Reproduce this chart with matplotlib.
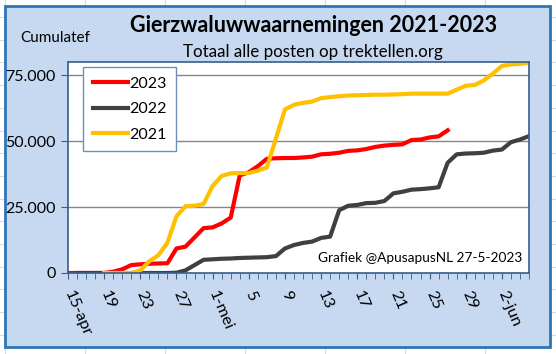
import numpy as np
import matplotlib
matplotlib.use('Agg')
import matplotlib.pyplot as plt
from matplotlib.patches import Rectangle
from matplotlib.lines import Line2D
from matplotlib.ticker import FuncFormatter, MultipleLocator

plt.rcParams['font.family'] = ['Lato', 'DejaVu Sans']

# dag 0 = 15-apr, dag 51 = 5-jun
tick_labels = ['15-apr', '19', '23', '27', '1-mei', '5', '9', '13', '17', '21', '25', '29', '2-jun']
n_days = 52

y2023 = [0, 0, 0, 0, 0, 500, 1400, 3000, 3300, 3500, 3600, 3700, 9300, 10000, 13500,
         17000, 17300, 18800, 21000, 37000, 38200, 40500, 43300, 43500, 43600, 43600,
         43800, 44100, 45000, 45200, 45600, 46300, 46500, 47000, 47800, 48300, 48600,
         48800, 50400, 50600, 51400, 51800, 54100]
y2022 = [np.nan, 0, 0, 0, 0, 0, 0, 0, 0, 0, 0, 0, 100, 1000, 3000, 5000, 5200, 5400,
         5500, 5700, 5800, 5900, 6000, 6400, 9300, 10600, 11400, 11900, 13300, 13800,
         23800, 25500, 25800, 26500, 26600, 27300, 30200, 30800, 31600, 31800, 32100,
         32500, 41800, 45000, 45300, 45400, 45600, 46400, 46800, 49600, 50600, 51900]
y2021 = [np.nan, np.nan, np.nan, np.nan, 0, 0, 0, 0, 1000, 4500, 6700, 11500, 21500,
         25300, 25500, 26200, 33000, 36800, 37800, 37900, 37900, 38800, 40000, 51000,
         62000, 63800, 64500, 65000, 66300, 66700, 67000, 67300, 67400, 67500, 67600,
         67600, 67700, 67800, 68000, 68000, 68000, 68000, 68000, 69500, 71000, 71300,
         73000, 75600, 78500, 79100, 79300, 79700]

W, H = 556, 354
fig = plt.figure(figsize=(W / 100, H / 100), dpi=100)
fig.patch.set_facecolor('white')

# excel cellen op de achtergrond
for x in range(5, W, 80):
    fig.add_artist(Line2D([x / W, x / W], [0, 1], color='#d9d9d9', lw=0.8, zorder=0))
for y in np.arange(17, H, 22.7):
    fig.add_artist(Line2D([0, 1], [1 - y / H, 1 - y / H], color='#d9d9d9', lw=0.8, zorder=0))

# grafiekgebied
fig.add_artist(Rectangle((5 / W, 1 - 347 / H), 545 / W, 341 / H, facecolor='#c6d9f1',
                         edgecolor='#2e75b6', lw=2, zorder=1))

ax = fig.add_axes([68 / W, 1 - 273 / H, 461 / W, 211 / H])
ax.set_zorder(2)
ax.set_facecolor('white')

days = np.arange(n_days)
ax.plot(days[:len(y2023)], y2023, color='#ff0000', lw=3, label='2023', solid_joinstyle='round')
ax.plot(days[:len(y2022)], y2022, color='#404040', lw=3, label='2022', solid_joinstyle='round')
ax.plot(days[:len(y2021)], y2021, color='#ffc000', lw=3, label='2021', solid_joinstyle='round')

ax.set_xlim(0, n_days - 1)
ax.set_ylim(0, 80000)
ax.yaxis.set_major_locator(MultipleLocator(25000))
ax.yaxis.set_major_formatter(FuncFormatter(lambda v, p: f'{int(v):,}'.replace(',', '.')))
ax.grid(axis='y', color='#868686', lw=1)
ax.set_axisbelow(True)

ax.set_xticks(np.arange(0, 49, 4))
ax.set_xticklabels(tick_labels, rotation=-67, rotation_mode='anchor', ha='left', va='center')
ax.set_xticks(days, minor=True)
ax.tick_params(axis='x', which='both', direction='out', length=4, color='#385d8a', pad=9,
               labelsize=11.8)
ax.tick_params(axis='y', direction='out', length=5, color='#385d8a', pad=4, labelsize=11.5)
for s in ax.spines.values():
    s.set_color('#385d8a')
    s.set_linewidth(1.2)

leg = ax.legend(loc='upper left', bbox_to_anchor=(0.0325, 0.976), borderaxespad=0,
                fontsize=11.5, fancybox=False, framealpha=1, edgecolor='#6f8fb8',
                handlelength=2.2, handletextpad=0.1, labelspacing=0.7, borderpad=0.6)
leg.get_frame().set_linewidth(1)

fig.text(314 / W, 1 - 26 / H, 'Gierzwaluwwaarnemingen 2021-2023', ha='center', va='center',
         fontsize=15.5, fontweight='bold', zorder=3)
fig.text(313 / W, 1 - 52 / H, 'Totaal alle posten op trektellen.org', ha='center', va='center',
         fontsize=12.2, zorder=3)
fig.text(55 / W, 1 - 38 / H, 'Cumulatef', ha='center', va='center', fontsize=11, zorder=3)
ax.text(0.985, 0.07, 'Grafiek @ApusapusNL 27-5-2023', transform=ax.transAxes,
        ha='right', va='center', fontsize=9.8)

fig.savefig('out.png', dpi=100, facecolor='white')
